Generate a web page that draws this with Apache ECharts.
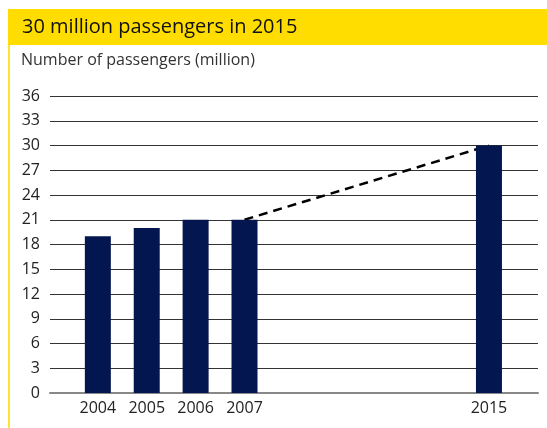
<!DOCTYPE html>
<html><head><meta charset="utf-8">
<script src="https://cdn.jsdelivr.net/npm/echarts@6/dist/echarts.min.js"></script>
<style>html,body{margin:0;padding:0;background:#fff}#c{width:547px;height:428px}</style>
</head><body><div id="c"></div>
<script>
const titleText = '30 million passengers in 2015';
const subtitleText = 'Number of passengers (million)';
const categories = ['2004', '2005', '2006', '2007', '', '', '', '', '2015'];
const passengers = [19, 20, 21, 21, '-', '-', '-', '-', 30];
const trend = ['-', '-', '-', 21, '-', '-', '-', '-', 30];
const yMin = 0, yMax = 36, yStep = 3;

const FONT = '"Open Sans", "Noto Sans", sans-serif';
const chart = echarts.init(document.getElementById('c'), null, {renderer: 'canvas'});
chart.setOption({
  animation: false,
  backgroundColor: '#fff',
  graphic: [
    {type: 'rect', left: 8, top: 9, shape: {width: 539, height: 36}, style: {fill: '#FFDD00'}, z: 0},
    {type: 'rect', left: 8, top: 45, shape: {width: 2, height: 383}, style: {fill: '#FFE333'}, z: 0}
  ],
  title: [
    {text: titleText, left: 17, top: 12, textStyle: {fontFamily: FONT, fontSize: 20, fontWeight: 'normal', color: '#111'}},
    {text: subtitleText, left: 16, top: 47, textStyle: {fontFamily: FONT, fontSize: 16, fontWeight: 'normal', color: '#333'}}
  ],
  grid: [
    {left: 50, right: 9, top: 96, bottom: 35, containLabel: false},
    {left: 73.4, right: 33.6, top: 96, bottom: 35, containLabel: false}
  ],
  xAxis: [
    {type: 'value', gridIndex: 0, min: 0, max: 1, axisLabel: {show: false}, axisTick: {show: false},
     splitLine: {show: false}, axisLine: {show: true, lineStyle: {color: '#888', width: 2}}},
    {type: 'category', gridIndex: 1, data: categories, boundaryGap: true,
     axisLine: {show: false}, axisTick: {show: false},
     axisLabel: {interval: 0, margin: 7, fontFamily: FONT, fontSize: 16, color: '#222'}}
  ],
  yAxis: [
    {type: 'value', gridIndex: 0, min: yMin, max: yMax, interval: yStep,
     axisLine: {show: false}, axisTick: {show: false},
     axisLabel: {margin: 10, fontFamily: FONT, fontSize: 16, color: '#222'},
     splitLine: {show: true, lineStyle: {color: '#333', width: 1}}},
    {type: 'value', gridIndex: 1, min: yMin, max: yMax, interval: yStep, show: false}
  ],
  series: [
    {type: 'line', xAxisIndex: 1, yAxisIndex: 1, data: trend, connectNulls: true, symbol: 'none', z: 1,
     lineStyle: {color: '#000', width: 2.5, type: [9, 6]}},
    {type: 'bar', xAxisIndex: 1, yAxisIndex: 1, data: passengers, barWidth: 26, z: 3,
     itemStyle: {color: '#041650'}}
  ]
});
</script></body></html>
